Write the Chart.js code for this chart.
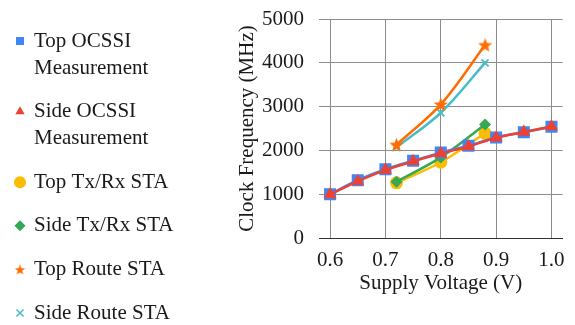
<!DOCTYPE html>
<html>
<head>
<meta charset="utf-8">
<script src="https://cdn.jsdelivr.net/npm/chart.js@4.4.0/dist/chart.umd.min.js"></script>
<style>
  html, body { margin: 0; padding: 0; background: #fff; }
</style>
</head>
<body>
<canvas id="clockChart" width="575" height="325"></canvas>
<script>
// Data
const voltOCSSI = [0.6, 0.65, 0.7, 0.75, 0.8, 0.85, 0.9, 0.95, 1.0];
const topOCSSI = [1000, 1320, 1570, 1765, 1950, 2105, 2295, 2415, 2540];
const sideOCSSI = [995, 1295, 1550, 1750, 1930, 2090, 2290, 2420, 2545];

const voltSTA = [0.72, 0.8, 0.88];
const topTxRx = [1260, 1730, 2390];
const sideTxRx = [1285, 1840, 2590];
const topRoute = [2130, 3050, 4405];
const sideRoute = [2070, 2860, 4000];

const xTicks = [0.6, 0.7, 0.8, 0.9, 1.0];
const legendLines = [
    ['Top OCSSI', 'Measurement'],
    ['Side OCSSI', 'Measurement'],
    ['Top Tx/Rx STA'],
    ['Side Tx/Rx STA'],
    ['Top Route STA'],
    ['Side Route STA']
];

const FONT = '"Liberation Serif", "Times New Roman", serif';
Chart.defaults.font.family = FONT;
Chart.defaults.font.size = 21;
Chart.defaults.color = '#1a1a1a';

// filled five point star for the route markers
function makeStar(size, color) {
    const c = document.createElement('canvas');
    c.width = c.height = size;
    const g = c.getContext('2d');
    g.fillStyle = color;
    g.beginPath();
    for (let k = 0; k < 10; k++) {
        const r = k % 2 ? size * 0.21 : size / 2;
        const a = -Math.PI / 2 + k * Math.PI / 5;
        g.lineTo(size / 2 + r * Math.cos(a), size / 2 + 0.6 + r * Math.sin(a));
    }
    g.closePath();
    g.fill();
    return c;
}
const starBig = makeStar(15, '#FF6D01');
const starSmall = makeStar(11, '#FF6D01');

const pts = (xs, ys) => xs.map((x, i) => ({ x: x, y: ys[i] }));

function series(label, xs, ys, color, style, radius, order) {
    return {
        label: label,
        data: pts(xs, ys),
        borderColor: color,
        backgroundColor: color,
        borderWidth: 2.5,
        tension: 0.35,
        pointStyle: style,
        pointRadius: radius,
        pointHoverRadius: radius,
        pointBorderWidth: style === 'crossRot' ? 1.8 : 0,
        order: order
    };
}

// legend drawn at the left, with the same point styles
const legendMarks = [
    { style: 'rect', r: 5.7 },
    { style: 'triangle', r: 5.4 },
    { style: 'circle', r: 6 },
    { style: 'rectRot', r: 5.5 },
    { style: starSmall, r: 5 },
    { style: 'crossRot', r: 5 }
];
const sideLegend = {
    id: 'sideLegend',
    afterDraw(chart) {
        const ctx = chart.ctx;
        ctx.save();
        ctx.font = '21px ' + FONT;
        ctx.textBaseline = 'middle';
        ctx.textAlign = 'left';
        let y = 41;
        legendLines.forEach((lines, i) => {
            const ds = chart.data.datasets[i];
            ctx.fillStyle = ds.backgroundColor;
            ctx.strokeStyle = ds.borderColor;
            ctx.lineWidth = 1.5;
            Chart.helpers.drawPoint(ctx, {
                pointStyle: legendMarks[i].style,
                radius: legendMarks[i].r,
                borderWidth: legendMarks[i].style === 'crossRot' ? 1.5 : 0
            }, 20, y);
            ctx.fillStyle = '#1a1a1a';
            lines.forEach((t, j) => ctx.fillText(t, 34, y + j * 27));
            y += (lines.length - 1) * 27 + 43.6;
        });
        ctx.restore();
    }
};

const clockChart = new Chart(document.getElementById('clockChart'), {
    type: 'line',
    data: {
        datasets: [
            series('Top OCSSI Measurement', voltOCSSI, topOCSSI, '#4285F4', 'rect', 8.5, 2),
            series('Side OCSSI Measurement', voltOCSSI, sideOCSSI, '#EA4335', 'triangle', 7.5, 1),
            series('Top Tx/Rx STA', voltSTA, topTxRx, '#FBBC04', 'circle', 6.5, 4),
            series('Side Tx/Rx STA', voltSTA, sideTxRx, '#34A853', 'rectRot', 6, 3),
            series('Top Route STA', voltSTA, topRoute, '#FF6D01', starBig, 7, 5),
            series('Side Route STA', voltSTA, sideRoute, '#46BDC6', 'crossRot', 5, 6)
        ]
    },
    options: {
        responsive: false,
        animation: false,
        layout: { padding: { left: 230, right: 6, top: 19, bottom: 0 } },
        plugins: {
            legend: { display: false },
            tooltip: { enabled: false }
        },
        scales: {
            x: {
                type: 'linear',
                min: 0.58,
                max: 1.02,
                afterBuildTicks: s => { s.ticks = xTicks.map(v => ({ value: v })); },
                afterFit: s => { s.height = 87; },
                ticks: { padding: 10, callback: v => v.toFixed(1) },
                grid: { color: '#8c8c8c', drawTicks: false },
                border: { color: '#333', width: 1 },
                title: { display: true, text: 'Supply Voltage (V)', padding: { top: 0, bottom: 29 } }
            },
            y: {
                min: 0,
                max: 5000,
                afterFit: s => { s.width = 89; s.paddingTop = 0; s.paddingBottom = 0; },
                ticks: { stepSize: 1000, padding: 15, callback: v => String(v) },
                grid: { color: '#8c8c8c', drawTicks: false },
                border: { display: false },
                title: { display: true, text: 'Clock Frequency (MHz)', padding: { top: 5, bottom: 0 } }
            }
        }
    },
    plugins: [sideLegend]
});
</script>
</body>
</html>
